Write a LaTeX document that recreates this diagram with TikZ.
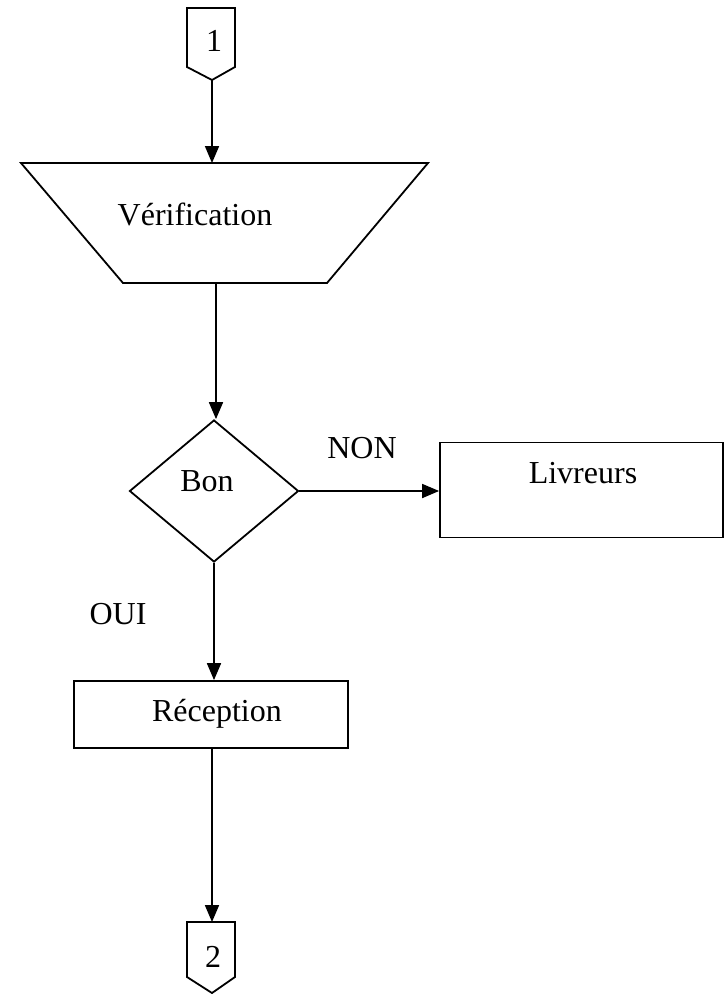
\documentclass[tikz,border=0pt]{standalone}
\usepackage{fontspec}
\setmainfont{Liberation Serif}
\usetikzlibrary{arrows.meta,shapes.geometric}
\begin{document}
\begin{tikzpicture}[x=1pt,y=-1pt,
  outline/.style={draw=black,line width=1.8pt,line join=miter},
  flow/.style={line width=1.8pt,-{Triangle[length=17pt,width=14pt]}},
  lbl/.style={font=\fontsize{32}{35}\selectfont,inner sep=0pt},
  boxnode/.style={outline,rectangle,inner sep=0pt}]
\useasboundingbox (0,0) rectangle (725,994);

% off-page connector 1
\draw[outline] (187,8) -- (235,8) -- (235,67) -- (212,80) -- (187,67) -- cycle;
\node[lbl] (c1) at (214,41) {1};
\coordinate (c1tip) at (212,80);

% trapezoid (manual operation)
\draw[outline] (21,163) -- (428,163) -- (327,283) -- (123,283) -- cycle;
\node[lbl] (verif) at (195,214) {Vérification};
\coordinate (veriftop) at (212,163);
\coordinate (verifbot) at (216,283);

% decision
\node[outline,diamond,inner sep=0pt,minimum width=169pt,minimum height=142pt,aspect=1.19] (bon) at (214,491) {};
\node[lbl] (bontxt) at (207,481) {Bon};

% boxes
\node[boxnode,minimum width=283pt,minimum height=95pt] (livr) at (581.5,490) {};
\node[lbl] (livrtxt) at (583,473) {Livreurs};
\node[boxnode,minimum width=274pt,minimum height=67pt] (recep) at (211,714.5) {};
\node[lbl] (receptxt) at (217,714) {Réception};

% off-page connector 2
\draw[outline] (187,922) -- (235,922) -- (235,977) -- (212,993) -- (187,977) -- cycle;
\node[lbl] (c2) at (213,957) {2};
\coordinate (c2top) at (212,922);

% branch labels
\node[lbl] (non) at (362,448) {NON};
\node[lbl] (oui) at (118,614) {OUI};

% connectors
\draw[flow] (c1tip) -- (veriftop);
\draw[flow] (verifbot) -- (bon.north -| verifbot);
\draw[flow] (bon.east) -- (livr.west |- bon.east);
\draw[flow] (bon.south) -- (recep.north -| bon.south);
\draw[flow] (recep.south -| c2top) -- (c2top);
\end{tikzpicture}
\end{document}
